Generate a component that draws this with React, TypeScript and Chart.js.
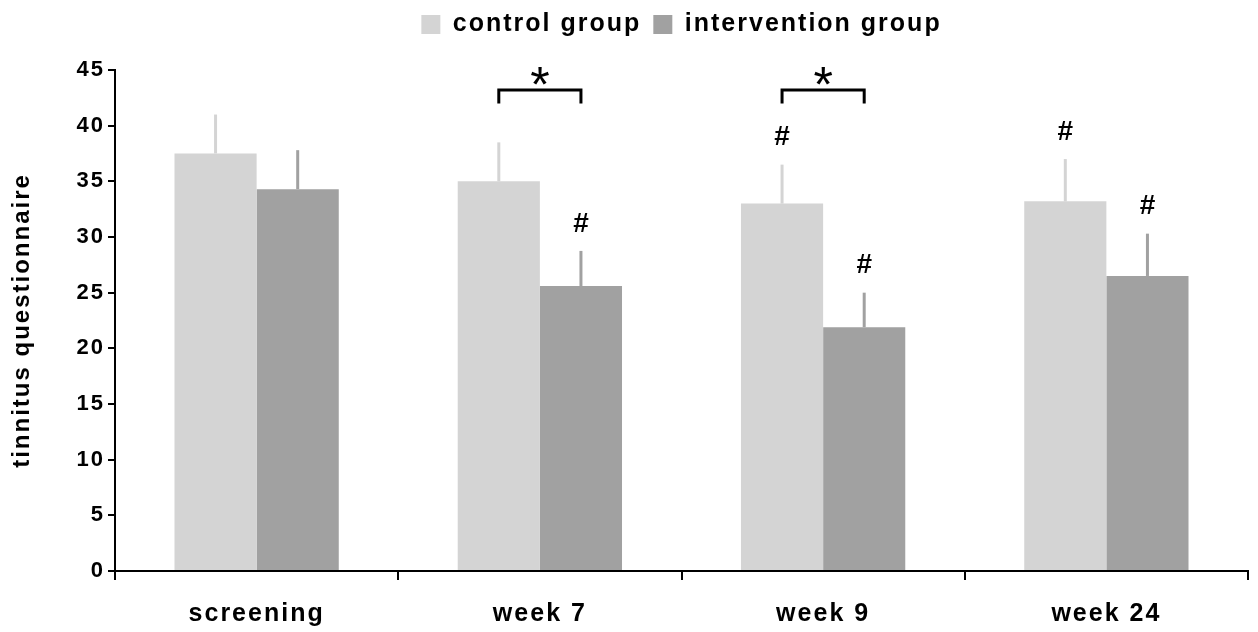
import React, { useEffect, useRef } from 'react';
import { Chart, registerables } from 'chart.js';

Chart.register(...registerables);

// ---------- data ----------
const categories = ['screening', 'week 7', 'week 9', 'week 24'];
const seriesNames = ['control group', 'intervention group'];
const controlValues = [37.5, 35.0, 33.0, 33.2];
const controlErrors = [3.5, 3.5, 3.5, 3.8];
const interventionValues = [34.3, 25.6, 21.9, 26.5];
const interventionErrors = [3.5, 3.15, 3.1, 3.8];
const controlHash = [false, false, true, true];
const interventionHash = [false, true, true, true];
const starCategories = [1, 2];
const starBracketLevel = 43.2;
const starBracketLegEnd = 42.0;
const yMin = 0;
const yMax = 45;
const yStep = 5;

// ---------- styles ----------
const FONT = "'Liberation Sans', Arial, sans-serif";
const CONTROL_COLOR = '#d4d4d4';
const INTERVENTION_COLOR = '#a1a1a1';
const SPACING = '2px';

const spacingPlugin = {
  id: 'letterSpacingAll',
  beforeLayout(chart: any) {
    chart.ctx.letterSpacing = SPACING;
  },
  beforeDraw(chart: any) {
    chart.ctx.letterSpacing = SPACING;
  },
};

const legendHeightPlugin = {
  id: 'legendHeight',
  beforeLayout(chart: any) {
    const lg = chart.legend;
    if (lg && !lg.__patched) {
      const orig = lg.fit.bind(lg);
      lg.fit = function () {
        orig();
        this.height = 70;
      };
      lg.__patched = true;
    }
  },
};

const errorSets = [controlErrors, interventionErrors];
const hashSets = [controlHash, interventionHash];

const errorBarPlugin = {
  id: 'errorBars',
  afterDatasetsDraw(chart: any) {
    const { ctx } = chart;
    const y = chart.scales.y;
    chart.data.datasets.forEach((ds: any, di: number) => {
      const meta = chart.getDatasetMeta(di);
      meta.data.forEach((bar: any, i: number) => {
        const v = ds.data[i] as number;
        const top = y.getPixelForValue(v + errorSets[di][i]);
        ctx.save();
        ctx.strokeStyle = ds.backgroundColor;
        ctx.lineWidth = 3;
        ctx.beginPath();
        ctx.moveTo(bar.x, bar.y);
        ctx.lineTo(bar.x, top);
        ctx.stroke();
        ctx.restore();
      });
    });
  },
};

const annotationPlugin = {
  id: 'significance',
  afterDraw(chart: any) {
    const { ctx } = chart;
    const y = chart.scales.y;
    ctx.save();
    ctx.letterSpacing = '0px';
    ctx.fillStyle = '#000';
    ctx.strokeStyle = '#000';
    // hash marks
    ctx.font = `bold 28px ${FONT}`;
    ctx.textAlign = 'center';
    ctx.textBaseline = 'middle';
    chart.data.datasets.forEach((ds: any, di: number) => {
      const meta = chart.getDatasetMeta(di);
      meta.data.forEach((bar: any, i: number) => {
        if (!hashSets[di][i]) return;
        const top = y.getPixelForValue((ds.data[i] as number) + errorSets[di][i]);
        ctx.fillText('#', bar.x, top - 27);
      });
    });
    // brackets with stars
    const m0 = chart.getDatasetMeta(0);
    const m1 = chart.getDatasetMeta(1);
    ctx.lineWidth = 3;
    ctx.lineJoin = 'miter';
    starCategories.forEach((c) => {
      const x1 = m0.data[c].x;
      const x2 = m1.data[c].x;
      const yl = y.getPixelForValue(starBracketLevel);
      const ye = y.getPixelForValue(starBracketLegEnd);
      ctx.beginPath();
      ctx.moveTo(x1, ye);
      ctx.lineTo(x1, yl);
      ctx.lineTo(x2, yl);
      ctx.lineTo(x2, ye);
      ctx.stroke();
      ctx.font = `50px ${FONT}`;
      ctx.textBaseline = 'alphabetic';
      ctx.fillText('*', (x1 + x2) / 2, yl + 12);
    });
    ctx.restore();
  },
};

export default function App() {
  const canvasRef = useRef<HTMLCanvasElement | null>(null);

  useEffect(() => {
    if (!canvasRef.current) return;
    const chart = new Chart(canvasRef.current, {
      type: 'bar',
      data: {
        labels: categories,
        datasets: [
          {
            label: seriesNames[0],
            data: controlValues,
            backgroundColor: CONTROL_COLOR,
            borderWidth: 0,
            categoryPercentage: 0.58,
            barPercentage: 1.0,
          },
          {
            label: seriesNames[1],
            data: interventionValues,
            backgroundColor: INTERVENTION_COLOR,
            borderWidth: 0,
            categoryPercentage: 0.58,
            barPercentage: 1.0,
          },
        ],
      },
      options: {
        animation: false,
        responsive: true,
        maintainAspectRatio: false,
        layout: { padding: { top: 0, right: 10, bottom: 0, left: 0 } },
        plugins: {
          tooltip: { enabled: false },
          legend: {
            display: true,
            position: 'top',
            fullSize: false,
            labels: {
              boxWidth: 19,
              boxHeight: 19,
              padding: 12,
              color: '#000',
              font: { family: FONT, size: 25, weight: 'bold' },
            },
          },
        },
        scales: {
          x: {
            grid: {
              offset: true,
              drawOnChartArea: false,
              drawTicks: true,
              tickLength: 9,
              color: '#000',
              lineWidth: 2,
            },
            border: { display: true, color: '#000', width: 2, z: 1 },
            ticks: {
              color: '#000',
              padding: 19,
              font: { family: FONT, size: 25, weight: 'bold' },
            },
            afterFit: (scale: any) => {
              scale.height = 61;
            },
          },
          y: {
            min: yMin,
            max: yMax,
            ticks: {
              stepSize: yStep,
              color: '#000',
              padding: 3,
              font: { family: FONT, size: 22, weight: 'bold' },
            },
            grid: {
              drawOnChartArea: false,
              drawTicks: true,
              tickLength: 7,
              color: '#000',
              lineWidth: 2,
            },
            border: { display: true, color: '#000', width: 2, z: 1 },
            title: {
              display: true,
              text: 'tinnitus questionnaire',
              color: '#000',
              padding: { top: 8, bottom: 0 },
              font: { family: FONT, size: 24, weight: 'bold' },
            },
            afterFit: (scale: any) => {
              scale.width = 115;
            },
          },
        },
      },
      plugins: [spacingPlugin, legendHeightPlugin, errorBarPlugin, annotationPlugin],
    });
    return () => chart.destroy();
  }, []);

  return (
    <div style={{ position: 'fixed', left: 0, top: 0, width: '1258px', height: '632px', background: '#fff' }}>
      <canvas ref={canvasRef} />
    </div>
  );
}
